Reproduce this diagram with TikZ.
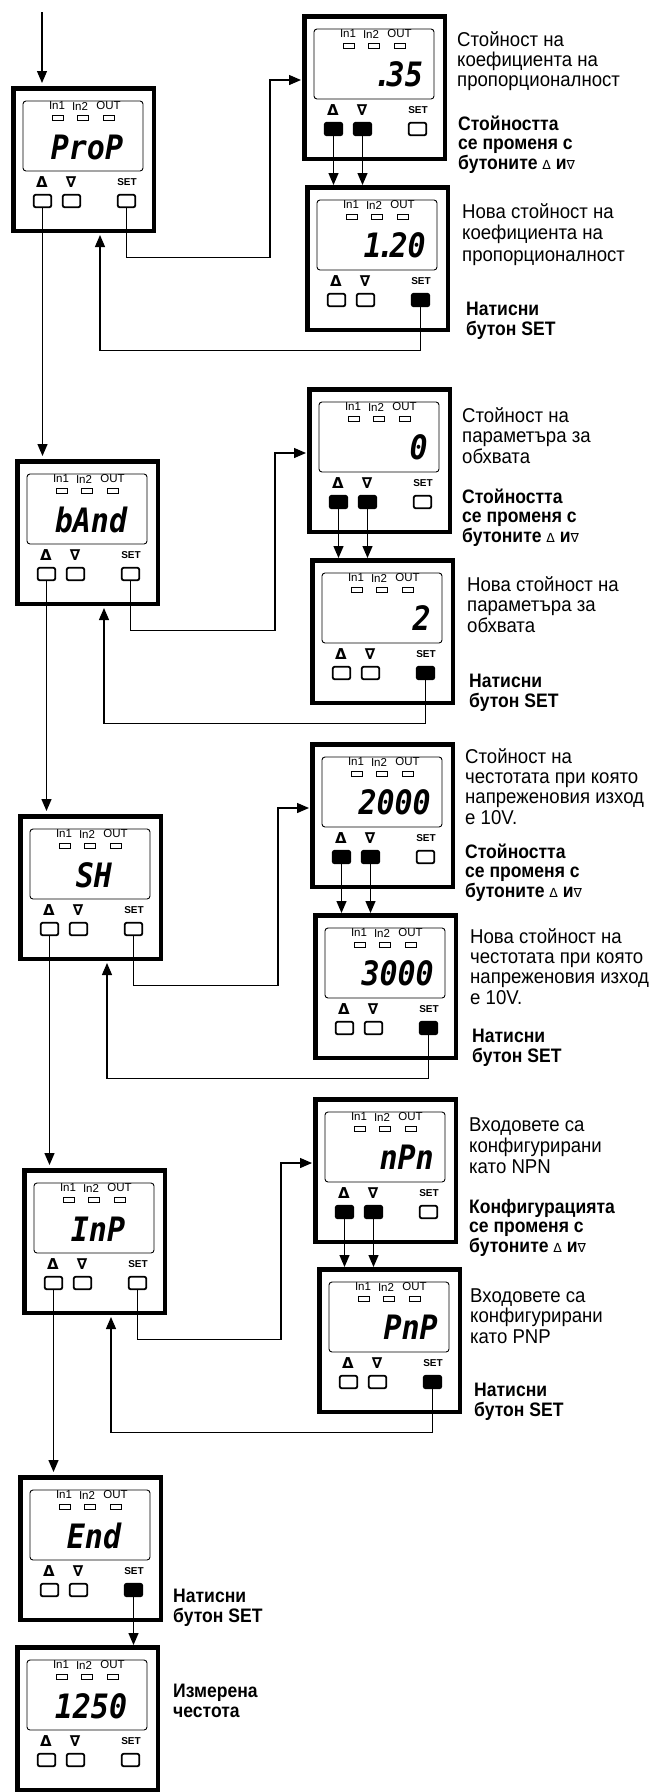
\documentclass[tikz,border=0pt]{standalone}
\usepackage{fontspec}
\usepackage{graphicx}
\setmainfont{Liberation Sans}
\newfontfamily\segfont{DejaVu Sans Mono}
\newfontfamily\symfont{DejaVu Sans}
\newfontfamily\descfont{Liberation Sans}[FakeStretch=0.93]
\newfontfamily\descbfont{Liberation Sans}[FakeStretch=0.9]
\usetikzlibrary{arrows.meta}
\newcommand\seg[1]{\scalebox{1}[1.12]{#1}}
\newcommand\sym[1]{{\symfont\mdseries\fontsize{12.5}{12.5}\selectfont #1}}
\tikzset{
 frame/.style={draw, line width=4.5pt, minimum width=140.5pt, minimum height=142.5pt, inner sep=0pt, fill=white},
 lcd/.style={draw, line width=0.9pt, rounded corners=3pt, minimum width=120pt, minimum height=70pt, inner sep=0pt},
 led/.style={draw, line width=1pt, minimum width=11pt, minimum height=5pt, inner sep=0pt},
 ledlbl/.style={font=\fontsize{11.5}{11.5}\selectfont, inner sep=0pt},
 disp/.style={font=\segfont\bfseries\itshape\fontsize{30}{30}\selectfont, inner sep=0pt},
 keylbl/.style={font=\symfont\bfseries\fontsize{15}{15}\selectfont, inner sep=0pt},
 setlbl/.style={font=\bfseries\fontsize{10}{10}\selectfont, inner sep=0pt},
 btn/.style={draw, line width=1.8pt, rounded corners=2pt, minimum width=17.5pt, minimum height=12.5pt, inner sep=0pt},
 conn/.style={line width=1.3pt, -{Triangle[length=12pt,width=10pt]}},
 desc/.style={font=\descfont\fontsize{20}{20.3}\selectfont, align=left, inner sep=0pt, anchor=base west},
 descb/.style={font=\descbfont\bfseries\fontsize{19.5}{19.5}\selectfont, align=left, inner sep=0pt, anchor=base west},
 cdisp/.style={anchor=base, at={(76,73)}},
 rdisp/.style={anchor=base east, at={(121,72)}},
}
\newcommand\panel[8]{%
 \begin{scope}[shift={(#2,#3)}]
  \node[frame] (#1) at (72.5,73.5) {};
  \node[lcd] (#1-lcd) at (72,50) {};
  \node[ledlbl] (#1-t1) at (46,20) {In1};
  \node[ledlbl] (#1-t2) at (69,20) {In2};
  \node[ledlbl] (#1-t3) at (97.5,20) {OUT};
  \node[led] (#1-l1) at (46.5,31.5) {};
  \node[led] (#1-l2) at (72,31.5) {};
  \node[led] (#1-l3) at (98,31.5) {};
  \node[disp,#4] (#1-d) {#5};
  \node[keylbl] (#1-ku) at (31,96.5) {Δ};
  \node[keylbl] (#1-kd) at (60,96.5) {∇};
  \node[setlbl] (#1-ks) at (116,96.5) {SET};
  \node[btn,fill=#6] (#1-up) at (31.5,115) {};
  \node[btn,fill=#7] (#1-dn) at (60.5,115) {};
  \node[btn,fill=#8] (#1-set) at (115.5,115) {};
  \coordinate (#1-in) at (0,66);
 \end{scope}}
\begin{document}
\begin{tikzpicture}[x=1pt,y=-1pt]
\useasboundingbox[fill=white] (0,0) rectangle (653,1792);
% group 1
\panel{P1}{11}{86}{cdisp}{\seg{ProP}}{white}{white}{white}
\panel{R1a}{302}{14}{rdisp}{\seg{.\kern-5pt35}}{black}{black}{white}
\panel{R1b}{305}{185}{rdisp}{\seg{1\kern-5pt.\kern-5pt20}}{white}{white}{black}
% group 2
\panel{P2}{15}{459}{cdisp}{\seg{bAnd}}{white}{white}{white}
\panel{R2a}{307}{387}{rdisp}{\seg{0}}{black}{black}{white}
\panel{R2b}{310}{558}{rdisp}{\seg{2}}{white}{white}{black}
% group 3
\panel{P3}{18}{814}{cdisp}{\seg{SH}}{white}{white}{white}
\panel{R3a}{310}{742}{rdisp}{\seg{2000}}{black}{black}{white}
\panel{R3b}{313}{913}{rdisp}{\seg{3000}}{white}{white}{black}
% group 4
\panel{P4}{22}{1168}{cdisp}{\seg{InP}}{white}{white}{white}
\panel{R4a}{313}{1097}{rdisp}{\seg{nPn}}{black}{black}{white}
\panel{R4b}{317}{1267}{rdisp}{\seg{PnP}}{white}{white}{black}
% group 5
\panel{P5}{18}{1475}{cdisp}{\seg{End}}{white}{white}{black}
\panel{P6}{15}{1645}{cdisp}{\seg{1250}}{white}{white}{white}

% connectors
\coordinate (start) at (42,12);
\draw[conn,shorten >=3pt] (start) -- (start |- P1.north);
\foreach \g/\n in {1/2,2/3,3/4,4/5}{
  \draw[conn,shorten >=3pt] (P\g-up.south) -- (P\g-up.south |- P\n.north);
  \draw[conn,shorten >=1pt] (P\g-set.south) -- ++(0,49) -| ([xshift=-32pt]R\g a-in) -- (R\g a-in);
  \draw[conn] (R\g a-up.south) -- (R\g a-up.south |- R\g b.north);
  \draw[conn] (R\g a-dn.south) -- (R\g a-dn.south |- R\g b.north);
  \draw[conn,shorten >=2pt] (R\g b-set.south) -- ++(0,43) -| ([xshift=89pt]P\g.south west);
}
\draw[conn] (P5-set.south) -- (P5-set.south |- P6.north);

% texts (anchored at the baseline of the last line)
\node[desc,font=\descfont\fontsize{20}{20}\selectfont] (T1a) at (457,86) {Стойност на\\коефициента на\\пропорционалност};
\node[descb] (T1b) at (458,169) {Стойността\\се променя с\\бутоните \sym{Δ} и\sym{∇}};
\node[desc,font=\descfont\fontsize{20}{21.5}\selectfont] (T1c) at (462,261) {Нова стойност на\\коефициента на\\пропорционалност};
\node[descb] (T1d) at (466,335) {Натисни\\бутон SET};

\node[desc] (T2a) at (462,463) {Стойност на\\параметъра за\\обхвата};
\node[descb] (T2b) at (462,542) {Стойността\\се променя с\\бутоните \sym{Δ} и\sym{∇}};
\node[desc] (T2c) at (467,632) {Нова стойност на\\параметъра за\\обхвата};
\node[descb] (T2d) at (469,707) {Натисни\\бутон SET};

\node[desc] (T3a) at (465,824) {Стойност на\\честотата при която\\напреженовия изход\\е 10V.};
\node[descb] (T3b) at (465,897) {Стойността\\се променя с\\бутоните \sym{Δ} и\sym{∇}};
\node[desc] (T3c) at (470,1004) {Нова стойност на\\честотата при която\\напреженовия изход\\е 10V.};
\node[descb] (T3d) at (472,1062) {Натисни\\бутон SET};

\node[desc,font=\descfont\fontsize{20}{21}\selectfont] (T4a) at (469,1173) {Входовете са\\конфигурирани\\като NPN};
\node[descb] (T4b) at (469,1252) {Конфигурацията\\се променя с\\бутоните \sym{Δ} и\sym{∇}};
\node[desc] (T4c) at (470,1343) {Входовете са\\конфигурирани\\като PNP};
\node[descb] (T4d) at (474,1416) {Натисни\\бутон SET};

\node[descb] (T5a) at (173,1622) {Натисни\\бутон SET};
\node[descb] (T5b) at (173,1717) {Измерена\\честота};
\end{tikzpicture}
\end{document}
